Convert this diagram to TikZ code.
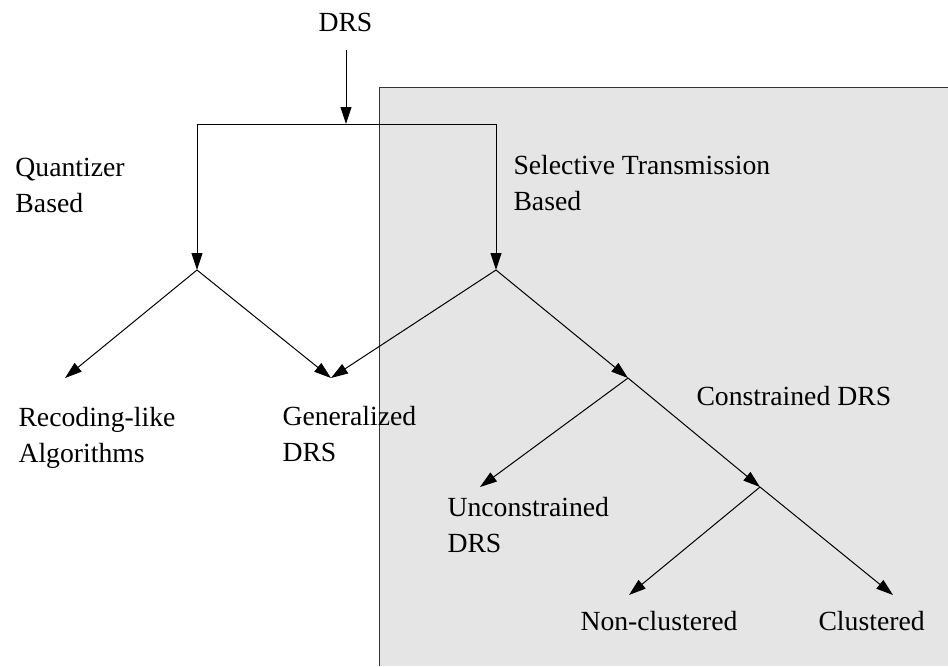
\documentclass[tikz,border=0pt]{standalone}
\usepackage{fontspec}
\setmainfont{Liberation Serif}
\usetikzlibrary{arrows.meta}
\definecolor{boxgray}{HTML}{E5E5E5}
\definecolor{boxedge}{HTML}{333333}
\begin{document}
\begin{tikzpicture}[x=0.5pt,y=-0.5pt, line width=0.5pt,
  conn/.style={draw, -{Triangle[length=8.5pt,width=5.5pt]}},
  plain/.style={draw},
  lbl/.style={anchor=base west, inner sep=0pt, align=left, font=\fontsize{13.85}{18}\selectfont}]
\useasboundingbox (0,0) rectangle (948,666);
\fill[boxgray] (379,87) rectangle (948,666);
\draw[boxedge] (379,666) -- (379,87) -- (948,87);
% labels (base anchor = baseline of last line)
\node[lbl] (drs) at (318,31.7) {DRS};
\node[lbl] (quant) at (15,212.7) {Quantizer\\Based};
\node[lbl] (selt) at (513,210) {Selective Transmission\\Based};
\node[lbl] (recl) at (18,462) {Recoding-like\\Algorithms};
\node[lbl] (genl) at (282,461) {Generalized\\DRS};
\node[lbl] (conl) at (696,405) {Constrained DRS};
\node[lbl] (uncl) at (447,552) {Unconstrained\\DRS};
\node[lbl] (nonl) at (580,630) {Non-clustered};
\node[lbl] (clul) at (818,630) {Clustered};
% junction points
\coordinate (top) at (346,50);
\coordinate (split) at (346,124);
\coordinate (hl) at (197,124);
\coordinate (hr) at (496,124);
\coordinate (q) at (197,270);
\coordinate (s) at (496,270);
\coordinate (rec) at (65,378);
\coordinate (gen) at (331,378);
\coordinate (c) at (628,378);
\coordinate (unc) at (480,487);
\coordinate (cl) at (760,487);
\coordinate (non) at (629,595);
\coordinate (clu) at (893,595);
% connectors
\draw[conn] (top) -- (split);
\draw[plain] (hl) -- (hr);
\draw[conn] (hl) -- (q);
\draw[conn] (hr) -- (s);
\draw[conn] (q) -- (rec);
\draw[conn] (q) -- (gen);
\draw[conn] (s) -- (gen);
\draw[conn] (s) -- (c);
\draw[conn] (c) -- (unc);
\draw[conn] (c) -- (cl);
\draw[conn] (cl) -- (non);
\draw[conn] (cl) -- (clu);
\end{tikzpicture}
\end{document}
